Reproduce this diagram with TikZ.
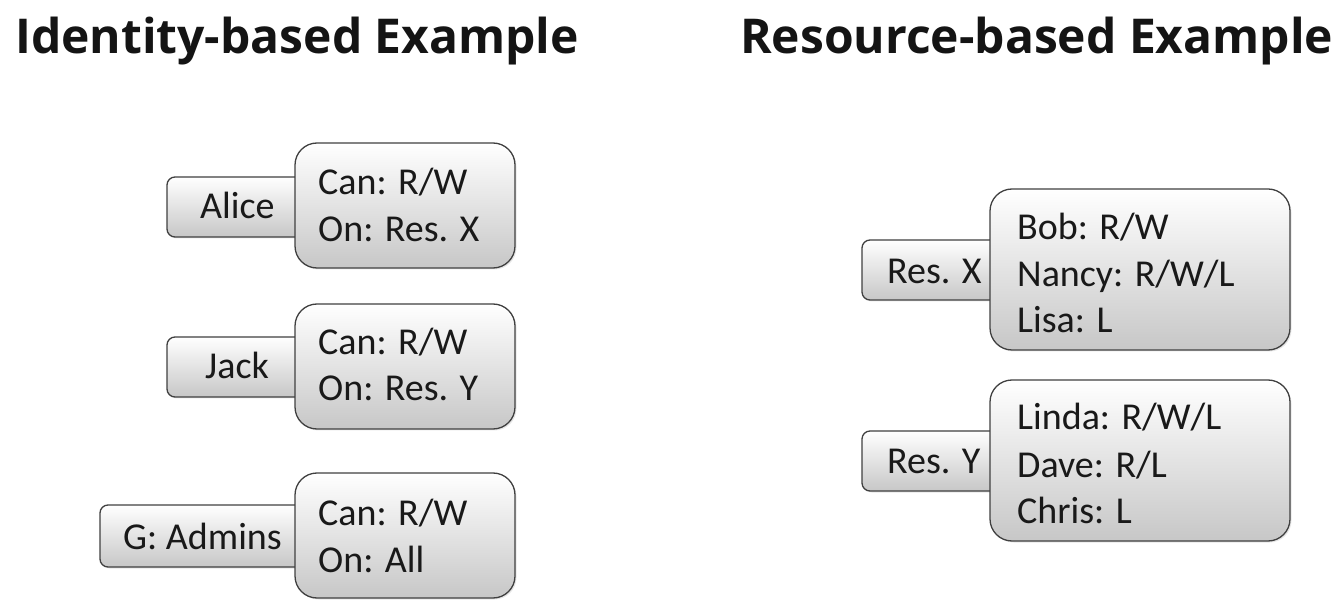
\documentclass[tikz,border=0pt]{standalone}
\usepackage{fontspec}
\setmainfont{Carlito}
\newfontfamily\titlefont{Open Sans}
\usetikzlibrary{shadows}
\begin{document}
\begin{tikzpicture}[x=1pt,y=-1pt]
\useasboundingbox (0,0) rectangle (1339,609);
\tikzset{
  boxbase/.style={draw=black!75, line width=1.3pt, inner sep=0pt, outer sep=0pt,
    top color=white, bottom color=black!22, anchor=north west,
    drop shadow={opacity=0.2, shadow xshift=1.5pt, shadow yshift=-1.5pt}},
  smallbox/.style={boxbase, rounded corners=8pt},
  bigbox/.style={boxbase, rounded corners=22pt},
  txt/.style={anchor=base west, inner sep=0pt, font=\fontsize{38}{42}\selectfont, text=black!90},
  ttl/.style={anchor=base west, inner sep=0pt, font=\titlefont\bfseries\fontsize{48}{54}\selectfont, text=black!92}
}
% titles
\node[ttl] (t1) at (15,54) {Identity-based Example};
\node[ttl] (t2) at (740,54) {Resource-based Example};

% Alice
\node[smallbox, minimum width=160pt, minimum height=60pt] (sa) at (167,177) {};
\node[bigbox, minimum width=220pt, minimum height=125pt] (ba) at (295,143) {};
\node[txt] (la) at (200,219) {Alice};
\node[txt] (a1) at (318,195) {Can: R/W};
\node[txt] (a2) at (318,242) {On: Res. X};

% Jack
\node[smallbox, minimum width=160pt, minimum height=60pt] (sj) at (167,337) {};
\node[bigbox, minimum width=220pt, minimum height=125pt] (bj) at (295,304) {};
\node[txt] (lj) at (205,379) {Jack};
\node[txt] (j1) at (318,355) {Can: R/W};
\node[txt] (j2) at (318,401) {On: Res. Y};

% G: Admins
\node[smallbox, minimum width=225pt, minimum height=62pt] (sg) at (100,505) {};
\node[bigbox, minimum width=220pt, minimum height=125pt] (bg) at (295,473) {};
\node[txt] (lg) at (123,549) {G: Admins};
\node[txt] (g1) at (318,525) {Can: R/W};
\node[txt] (g2) at (318,572) {On: All};

% Res. X
\node[smallbox, minimum width=160pt, minimum height=60pt] (sx) at (862,240) {};
\node[bigbox, minimum width=300pt, minimum height=161pt] (bx) at (990,189) {};
\node[txt] (lx) at (887,284) {Res. X};
\node[txt] (x1) at (1017,240) {Bob: R/W};
\node[txt] (x2) at (1017,287) {Nancy: R/W/L};
\node[txt] (x3) at (1017,333) {Lisa: L};

% Res. Y
\node[smallbox, minimum width=160pt, minimum height=60pt] (sy) at (862,431) {};
\node[bigbox, minimum width=300pt, minimum height=161pt] (by) at (990,380) {};
\node[txt] (ly) at (887,474) {Res. Y};
\node[txt] (y1) at (1017,430) {Linda: R/W/L};
\node[txt] (y2) at (1017,477) {Dave: R/L};
\node[txt] (y3) at (1017,523) {Chris: L};
\end{tikzpicture}
\end{document}
